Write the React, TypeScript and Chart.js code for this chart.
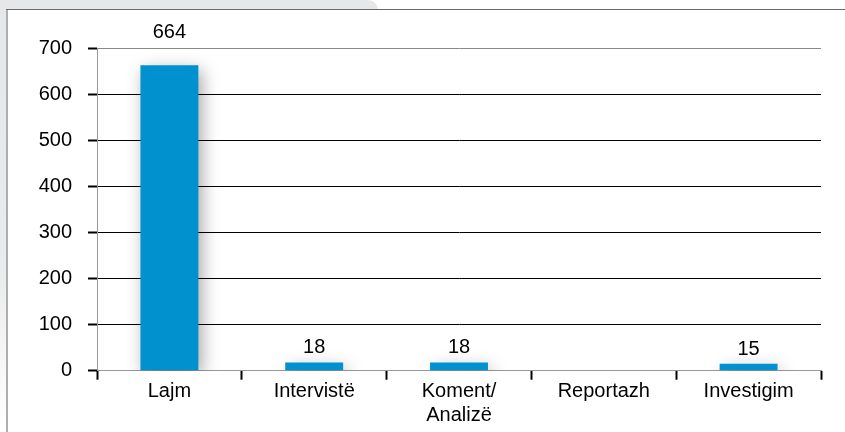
import React, { useEffect, useRef } from "react";
import { Chart, registerables } from "chart.js";

Chart.register(...registerables);

const categories: (string | string[])[] = ["Lajm", "Intervistë", ["Koment/", "Analizë"], "Reportazh", "Investigim"];
const values: number[] = [664, 18, 18, 0, 15];
const yTicks: number[] = [0, 100, 200, 300, 400, 500, 600, 700];

const FONT = "'Liberation Sans', Arial, sans-serif";
const FS = 20;

const shadowPlugin = {
  id: "barShadow",
  beforeDatasetsDraw(chart: any) {
    const ctx = chart.ctx;
    ctx.save();
    ctx.shadowColor = "rgba(0,0,0,0.35)";
    ctx.shadowBlur = 16;
    ctx.shadowOffsetX = 4;
    ctx.shadowOffsetY = 5;
  },
  afterDatasetsDraw(chart: any) {
    chart.ctx.restore();
  },
};

const labelPlugin = {
  id: "valueLabels",
  afterDatasetsDraw(chart: any) {
    const ctx = chart.ctx;
    const meta = chart.getDatasetMeta(0);
    const top = chart.chartArea.top;
    ctx.save();
    ctx.font = `${FS}px ${FONT}`;
    ctx.fillStyle = "#000";
    ctx.textAlign = "center";
    ctx.textBaseline = "alphabetic";
    meta.data.forEach((bar: any, i: number) => {
      const v = values[i];
      if (!v) return;
      let y = bar.y - 9;
      if (y - 16 < top) y = top - 10.5;
      ctx.fillText(String(v), bar.x, y);
    });
    ctx.restore();
  },
};

export default function App() {
  const ref = useRef<HTMLCanvasElement>(null);
  useEffect(() => {
    if (!ref.current) return;
    const chart = new Chart(ref.current, {
      type: "bar",
      data: {
        labels: categories as any,
        datasets: [
          {
            data: values,
            backgroundColor: "#0091CE",
            borderWidth: 0,
            barPercentage: 0.4,
            categoryPercentage: 1,
          },
        ],
      },
      options: {
        responsive: false,
        animation: false,
        events: [],
        layout: { padding: { left: 0, right: 24, top: 48.7, bottom: 0 } },
        plugins: { legend: { display: false }, tooltip: { enabled: false } },
        scales: {
          x: {
            grid: {
              offset: true,
              drawOnChartArea: false,
              tickLength: 9,
              tickColor: "#000",
              tickWidth: 2,
            },
            border: { color: "#999", width: 1 },
            ticks: {
              font: { family: FONT, size: FS, lineHeight: 1.2 },
              color: "#000",
              padding: 0,
              autoSkip: false,
              maxRotation: 0,
            },
            afterFit: (s: any) => {
              s.height = 61.3;
            },
          },
          y: {
            min: 0,
            max: 700,
            afterBuildTicks: (s: any) => {
              s.ticks = yTicks.map((v) => ({ value: v }));
            },
            grid: {
              color: (c: any) => (c.tick && (c.tick.value === 700 || c.tick.value === 0) ? "#888" : "#000"),
              lineWidth: 1,
              tickLength: 9,
              tickColor: "#000",
              tickWidth: 2,
            },
            border: { color: "#999", width: 1 },
            ticks: {
              font: { family: FONT, size: FS },
              color: "#000",
              padding: 16,
            },
            afterFit: (s: any) => {
              s.width = 97;
            },
          },
        },
      },
      plugins: [shadowPlugin, labelPlugin],
    });
    return () => chart.destroy();
  }, []);

  return (
    <div style={{ position: "fixed", left: 0, top: 0, width: 845, height: 432, background: "#fff", overflow: "hidden" }}>
      <div style={{ position: "absolute", left: 0, top: 0, width: 378, height: 10, background: "#e6e7e8", borderTopRightRadius: 10 }} />
      <div style={{ position: "absolute", left: 0, top: 0, width: 6, height: 432, background: "linear-gradient(#e6e7e8, #e9eaeb 60%, #ffffff)" }} />
      <div style={{ position: "absolute", left: 6, top: 9, width: 2, height: 423, background: "#aeaeae" }} />
      <div style={{ position: "absolute", left: 6, top: 9, width: 839, height: 1, background: "#6a6a6a" }} />
      <canvas ref={ref} width={845} height={432} style={{ position: "absolute", left: 0, top: 0 }} />
    </div>
  );
}
